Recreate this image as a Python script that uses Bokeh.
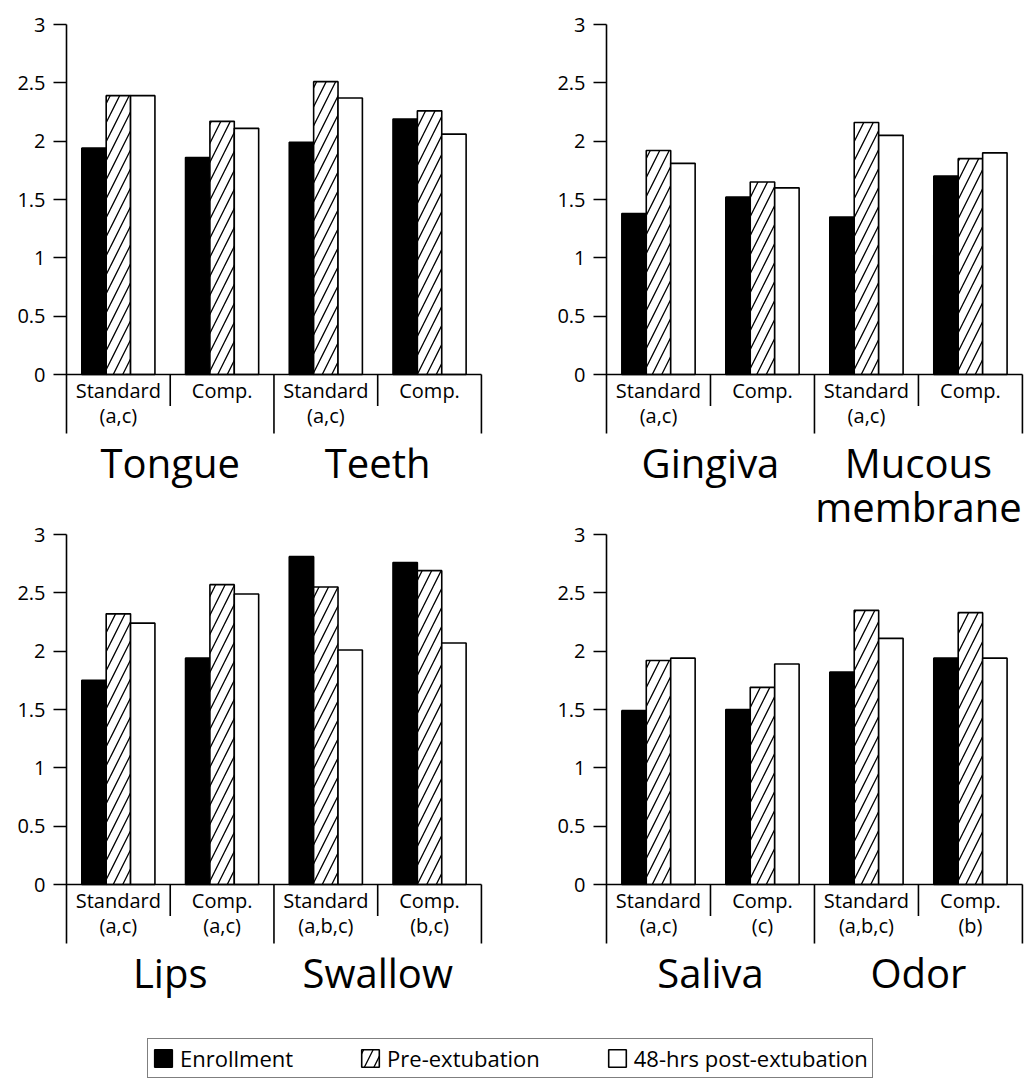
from bokeh.plotting import figure
from bokeh.models import (Range1d, FixedTicker, NumeralTickFormatter,
                          Legend, LegendItem, ColumnDataSource)
from bokeh.layouts import column, row
from bokeh.core.properties import value
from bokeh.embed import file_html
from bokeh.resources import INLINE

FONT = "Open Sans"

series_names = ["Enrollment", "Pre-extubation", "48-hrs post-extubation"]
y_ticks = [0, 0.5, 1, 1.5, 2, 2.5, 3]

# Panel 1: Tongue / Teeth
groups_1 = ["Tongue", "Teeth"]
subs_1 = ["Standard\n(a,c)", "Comp.", "Standard\n(a,c)", "Comp."]
enroll_1 = [1.94, 1.86, 1.99, 2.19]
pre_1 = [2.39, 2.17, 2.51, 2.26]
post_1 = [2.39, 2.11, 2.37, 2.06]

# Panel 2: Gingiva / Mucous membrane
groups_2 = ["Gingiva", "Mucous\nmembrane"]
subs_2 = ["Standard\n(a,c)", "Comp.", "Standard\n(a,c)", "Comp."]
enroll_2 = [1.38, 1.52, 1.35, 1.70]
pre_2 = [1.92, 1.65, 2.16, 1.85]
post_2 = [1.81, 1.60, 2.05, 1.90]

# Panel 3: Lips / Swallow
groups_3 = ["Lips", "Swallow"]
subs_3 = ["Standard\n(a,c)", "Comp.\n(a,c)", "Standard\n(a,b,c)", "Comp.\n(b,c)"]
enroll_3 = [1.75, 1.94, 2.81, 2.76]
pre_3 = [2.32, 2.57, 2.55, 2.69]
post_3 = [2.24, 2.49, 2.01, 2.07]

# Panel 4: Saliva / Odor
groups_4 = ["Saliva", "Odor"]
subs_4 = ["Standard\n(a,c)", "Comp.\n(c)", "Standard\n(a,b,c)", "Comp.\n(b)"]
enroll_4 = [1.49, 1.50, 1.82, 1.94]
pre_4 = [1.92, 1.69, 2.35, 2.33]
post_4 = [1.94, 1.89, 2.11, 1.94]

Y_BOX, Y_MAX = -0.506, 3.0
PPU = 350 / 3.0
BW = 0.235
LABEL_DROP = 0.515  # group-name top, below the zero line (data units)
STYLES = [
    dict(fill_color="black"),
    dict(fill_color="white", hatch_pattern="/", hatch_color="black",
         hatch_weight=1.3, hatch_scale=19),
    dict(fill_color="white"),
]


def group_text(p, groups, n, y):
    per_group = n // len(groups)
    gsrc = ColumnDataSource(dict(
        x=[g * per_group + per_group / 2 for g in range(len(groups))],
        y=[y] * len(groups), t=groups))
    p.text(x="x", y="y", text="t", source=gsrc, text_align="center",
           text_baseline="top", text_font=value(FONT), text_font_size="40px",
           text_line_height=0.80, text_color="black")


def make_panel(groups, subs, series, width, bl, br, bt, top_px, bottom_px,
               above_groups=None, above_px=0):
    n = len(subs)
    y_low = -bottom_px / PPU
    y_high = Y_MAX + top_px / PPU
    frame_h = 350 + top_px + bottom_px
    p = figure(width=width, height=bt + frame_h, output_backend="svg",
               toolbar_location=None, x_range=Range1d(0, n + 0.02),
               y_range=Range1d(y_low, y_high), x_axis_location=None,
               min_border_left=bl, min_border_right=br,
               min_border_top=bt, min_border_bottom=0)
    p.outline_line_color = None
    p.grid.grid_line_color = None
    ax = p.yaxis[0]
    ax.bounds = (Y_BOX, Y_MAX)
    ax.ticker = FixedTicker(ticks=y_ticks)
    ax.formatter = NumeralTickFormatter(format="0.[0]")
    ax.major_tick_out = 13
    ax.major_tick_in = 0
    ax.minor_tick_line_color = None
    ax.axis_line_width = 1.6
    ax.major_tick_line_width = 1.6
    ax.axis_line_color = "black"
    ax.major_tick_line_color = "black"
    ax.major_label_text_font = FONT
    ax.major_label_text_font_size = "20px"
    ax.major_label_text_color = "black"
    ax.major_label_standoff = 8

    for k, vals in enumerate(series):
        xs = [i + 0.5 + (k - 1) * BW for i in range(len(vals))]
        p.vbar(x=xs, top=vals, bottom=0, width=BW, line_color="black",
               line_width=1.6, **STYLES[k])

    per_group = n // len(groups)
    # category box
    x0 = [0]; x1 = [n]; y0 = [0]; y1 = [0]
    for j in range(1, n + 1):
        x0.append(j); x1.append(j); y0.append(0)
        y1.append(Y_BOX if j % per_group == 0 else -0.27)
    p.segment(x0=x0, y0=y0, x1=x1, y1=y1, line_color="black", line_width=1.6)

    src = ColumnDataSource(dict(x=[i + 0.5 for i in range(n)],
                                y=[-0.02] * n, t=subs))
    p.text(x="x", y="y", text="t", source=src, text_align="center",
           text_baseline="top", text_font=value(FONT), text_font_size="20px",
           text_line_height=0.92, text_color="black")

    if bottom_px > 100:
        group_text(p, groups, n, -LABEL_DROP)
    if above_groups is not None:
        # names of the panel above, placed in this canvas above its own axis
        group_text(p, above_groups, n, Y_MAX + (above_px - 0.1) / PPU)
    return p


# top row: canvas ends right under the category box (y = 434 px)
p1 = make_panel(groups_1, subs_1, [enroll_1, pre_1, post_1], 520, 66, 37, 24, 0, 60)
p2 = make_panel(groups_2, subs_2, [enroll_2, pre_2, post_2], 506, 86, 2, 24, 0, 60)
# bottom row: frame starts at 434 px, so it also carries the top-row names
p3 = make_panel(groups_3, subs_3, [enroll_3, pre_3, post_3], 520, 66, 37, 0, 100, 122,
                above_groups=groups_1, above_px=100)
p4 = make_panel(groups_4, subs_4, [enroll_4, pre_4, post_4], 506, 86, 2, 0, 100, 122,
                above_groups=groups_2, above_px=100)

pl = figure(width=1016, height=74, output_backend="svg", toolbar_location=None,
            x_range=Range1d(0, 1), y_range=Range1d(0, 1),
            x_axis_location=None, y_axis_location=None, min_border=0)
pl.outline_line_color = None
pl.grid.grid_line_color = None
items = []
for k, name in enumerate(series_names):
    r = pl.vbar(x=[0.5], bottom=[0.2], top=[0.3], width=0.001,
                line_color="black", line_width=1.6, **STYLES[k])
    items.append(LegendItem(label=name, renderers=[r]))
leg = Legend(items=items, orientation="horizontal", location=(147, 2),
             margin=0, padding=4, spacing=66, label_standoff=6,
             glyph_width=22, glyph_height=22, label_text_font=FONT,
             label_text_font_size="22px", label_text_color="black",
             border_line_color="black", border_line_width=1.6,
             background_fill_color="white", background_fill_alpha=1.0)
pl.add_layout(leg)

layout = column(row(p1, p2), row(p3, p4), pl)
open("out.html", "w").write(file_html(layout, INLINE))
